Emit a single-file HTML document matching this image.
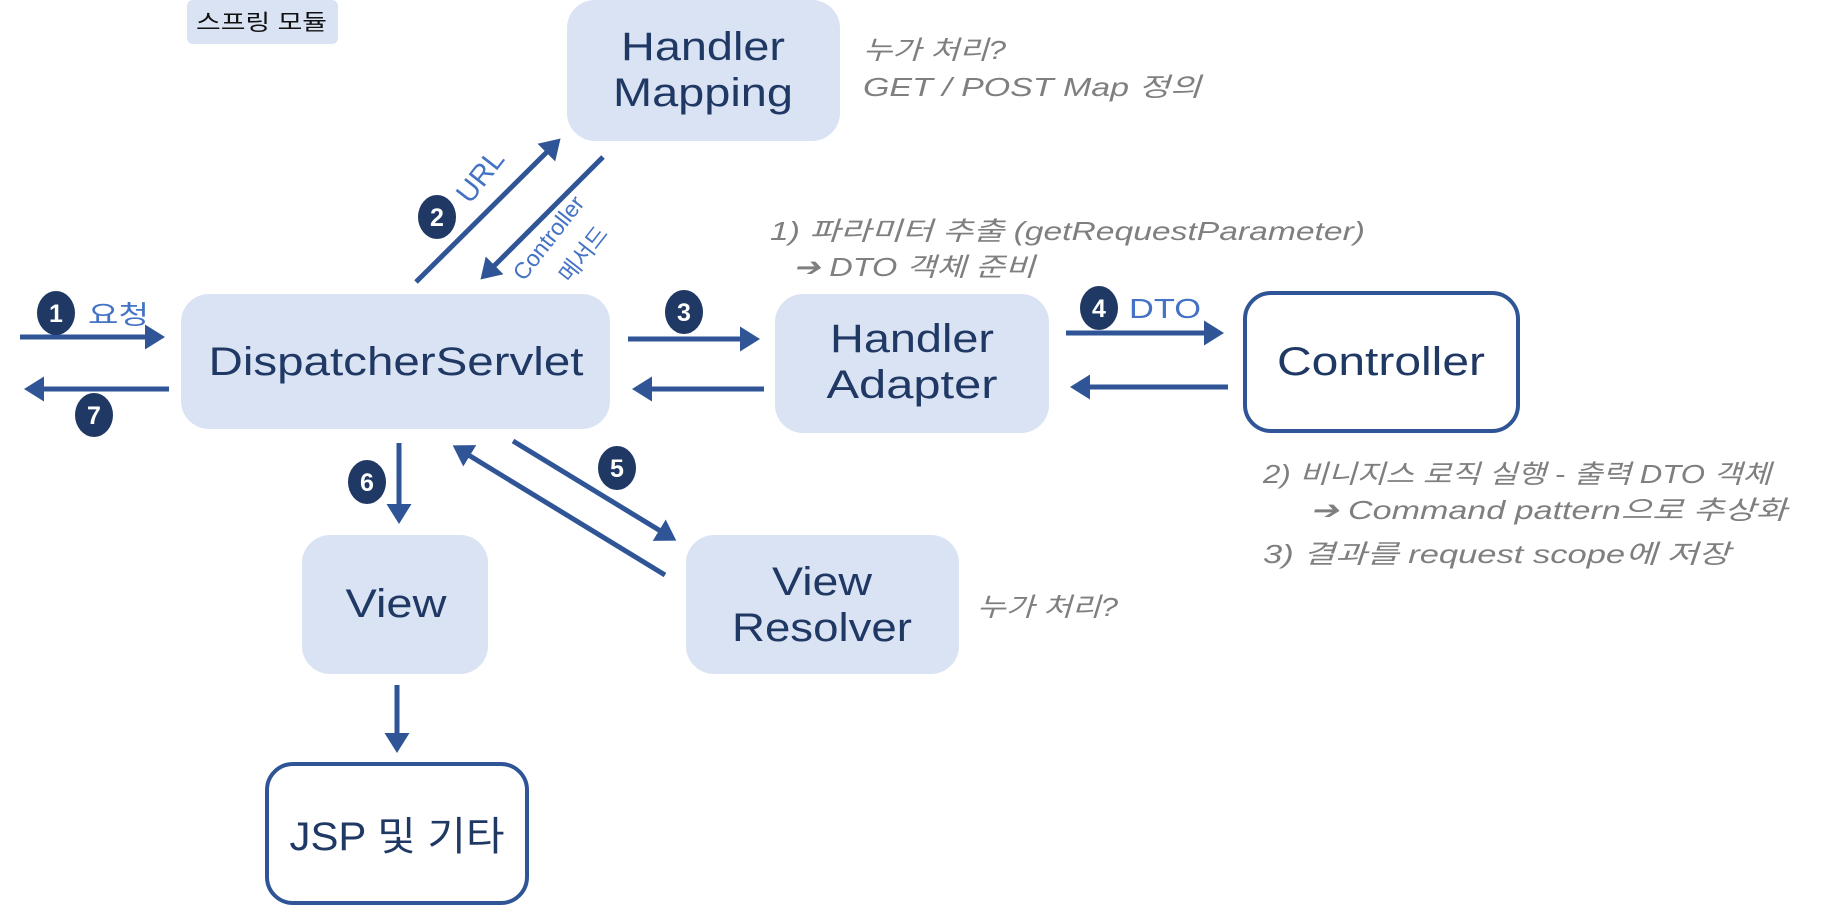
<!DOCTYPE html>
<html><head><meta charset="utf-8"><style>
html,body{margin:0;padding:0;background:#fff;}
svg{display:block;}
text{font-family:"Liberation Sans","Noto Sans CJK KR",sans-serif;}
.box{fill:#dae3f3;}
.t{fill:#1f3864;font-size:40px;text-anchor:middle;}
.g{fill:#7f7f7f;font-size:26px;font-style:italic;}
.b{fill:#4472c4;font-size:26px;}
.c{fill:#1f3864;}
.n{fill:#fff;font-size:25px;font-weight:bold;text-anchor:middle;}
.a{stroke:#2f5597;stroke-width:5;fill:none;marker-end:url(#ah);}
</style></head><body>
<svg width="1829" height="906" viewBox="0 0 1829 906" xmlns="http://www.w3.org/2000/svg">
<defs><marker id="ah" markerWidth="5" markerHeight="5" refX="3" refY="2.5" orient="auto" markerUnits="strokeWidth"><path d="M0,0 L4,2.5 L0,5 Z" fill="#2f5597"/></marker></defs>

<rect class="box" x="187" y="0" width="151" height="44" rx="6"/>
<text x="196" y="30" textLength="131" lengthAdjust="spacingAndGlyphs" style="font-size:22px;fill:#111">스프링 모듈</text>

<rect class="box" x="567" y="0" width="273" height="141" rx="28"/>
<text class="t" x="703" y="60" textLength="164" lengthAdjust="spacingAndGlyphs">Handler</text>
<text class="t" x="703" y="106" textLength="180" lengthAdjust="spacingAndGlyphs">Mapping</text>
<text class="g" x="863" y="59" textLength="143" lengthAdjust="spacingAndGlyphs">누가 처리?</text>
<text class="g" x="863" y="96" textLength="338" lengthAdjust="spacingAndGlyphs">GET / POST Map 정의</text>

<rect class="box" x="181" y="294" width="429" height="135" rx="28"/>
<text class="t" x="396" y="375" textLength="375" lengthAdjust="spacingAndGlyphs">DispatcherServlet</text>

<rect class="box" x="775" y="294" width="274" height="139" rx="28"/>
<text class="t" x="912" y="352" textLength="164" lengthAdjust="spacingAndGlyphs">Handler</text>
<text class="t" x="912" y="398" textLength="171" lengthAdjust="spacingAndGlyphs">Adapter</text>

<rect x="1245" y="293" width="273" height="138" rx="26" fill="#fff" stroke="#2f5597" stroke-width="4"/>
<text class="t" x="1381" y="375" textLength="208" lengthAdjust="spacingAndGlyphs">Controller</text>

<rect class="box" x="302" y="535" width="186" height="139" rx="28"/>
<text class="t" x="396" y="617" textLength="101" lengthAdjust="spacingAndGlyphs">View</text>

<rect class="box" x="686" y="535" width="273" height="139" rx="28"/>
<text class="t" x="822" y="595" textLength="100" lengthAdjust="spacingAndGlyphs">View</text>
<text class="t" x="822" y="641" textLength="180" lengthAdjust="spacingAndGlyphs">Resolver</text>
<text class="g" x="977" y="616" textLength="141" lengthAdjust="spacingAndGlyphs">누가 처리?</text>

<rect x="267" y="764" width="260" height="139" rx="26" fill="#fff" stroke="#2f5597" stroke-width="4"/>
<text class="t" x="397" y="850" textLength="215" lengthAdjust="spacingAndGlyphs">JSP 및 기타</text>

<!-- arrows -->
<line class="a" x1="20" y1="337" x2="160" y2="337"/>
<line class="a" x1="169" y1="389" x2="29" y2="389"/>
<line class="a" x1="628" y1="339" x2="755" y2="339"/>
<line class="a" x1="764" y1="389" x2="637" y2="389"/>
<line class="a" x1="1066" y1="333" x2="1219" y2="333"/>
<line class="a" x1="1228" y1="387" x2="1075" y2="387"/>
<line class="a" x1="416" y1="282" x2="557" y2="142"/>
<line class="a" x1="603" y1="157" x2="484" y2="276"/>
<line class="a" x1="399" y1="443" x2="399" y2="519"/>
<line class="a" x1="513" y1="441" x2="672" y2="538"/>
<line class="a" x1="665" y1="575" x2="457" y2="448"/>
<line class="a" x1="397" y1="685" x2="397" y2="748"/>

<!-- circles -->
<g>
<ellipse class="c" cx="56" cy="313" rx="19" ry="22"/><text class="n" x="56" y="322">1</text>
<ellipse class="c" cx="94" cy="415" rx="19" ry="22"/><text class="n" x="94" y="424">7</text>
<ellipse class="c" cx="684" cy="312" rx="19" ry="22"/><text class="n" x="684" y="321">3</text>
<ellipse class="c" cx="1099" cy="308" rx="19" ry="22"/><text class="n" x="1099" y="317">4</text>
<ellipse class="c" cx="437" cy="217" rx="19" ry="22"/><text class="n" x="437" y="226">2</text>
<ellipse class="c" cx="617" cy="468" rx="19" ry="22"/><text class="n" x="617" y="477">5</text>
<ellipse class="c" cx="367" cy="482" rx="19" ry="22"/><text class="n" x="367" y="491">6</text>
</g>
<text class="b" x="88" y="324" textLength="61" lengthAdjust="spacingAndGlyphs">요청</text>
<text class="b" x="1129" y="318" textLength="72" lengthAdjust="spacingAndGlyphs" style="font-size:28px">DTO</text>
<text class="b" x="470" y="205" transform="rotate(-52 470 205)" style="font-size:29px">URL</text>
<text class="b" x="524" y="282" transform="rotate(-52 524 282)" style="font-size:23px">Controller</text>
<text class="b" x="570" y="284" transform="rotate(-52 570 284)" style="font-size:23px">메서드</text>

<text class="g" x="770" y="240" textLength="595" lengthAdjust="spacingAndGlyphs">1) 파라미터 추출 (getRequestParameter)</text>
<text class="g" x="793" y="276" textLength="242" lengthAdjust="spacingAndGlyphs">➔ DTO 객체 준비</text>
<text class="g" x="1263" y="483" textLength="508" lengthAdjust="spacingAndGlyphs">2) 비니지스 로직 실행 - 출력 DTO 객체</text>
<text class="g" x="1310" y="519" textLength="477" lengthAdjust="spacingAndGlyphs">➔ Command pattern으로 추상화</text>
<text class="g" x="1263" y="563" textLength="467" lengthAdjust="spacingAndGlyphs">3) 결과를 request scope에 저장</text>
</svg>
</body></html>
